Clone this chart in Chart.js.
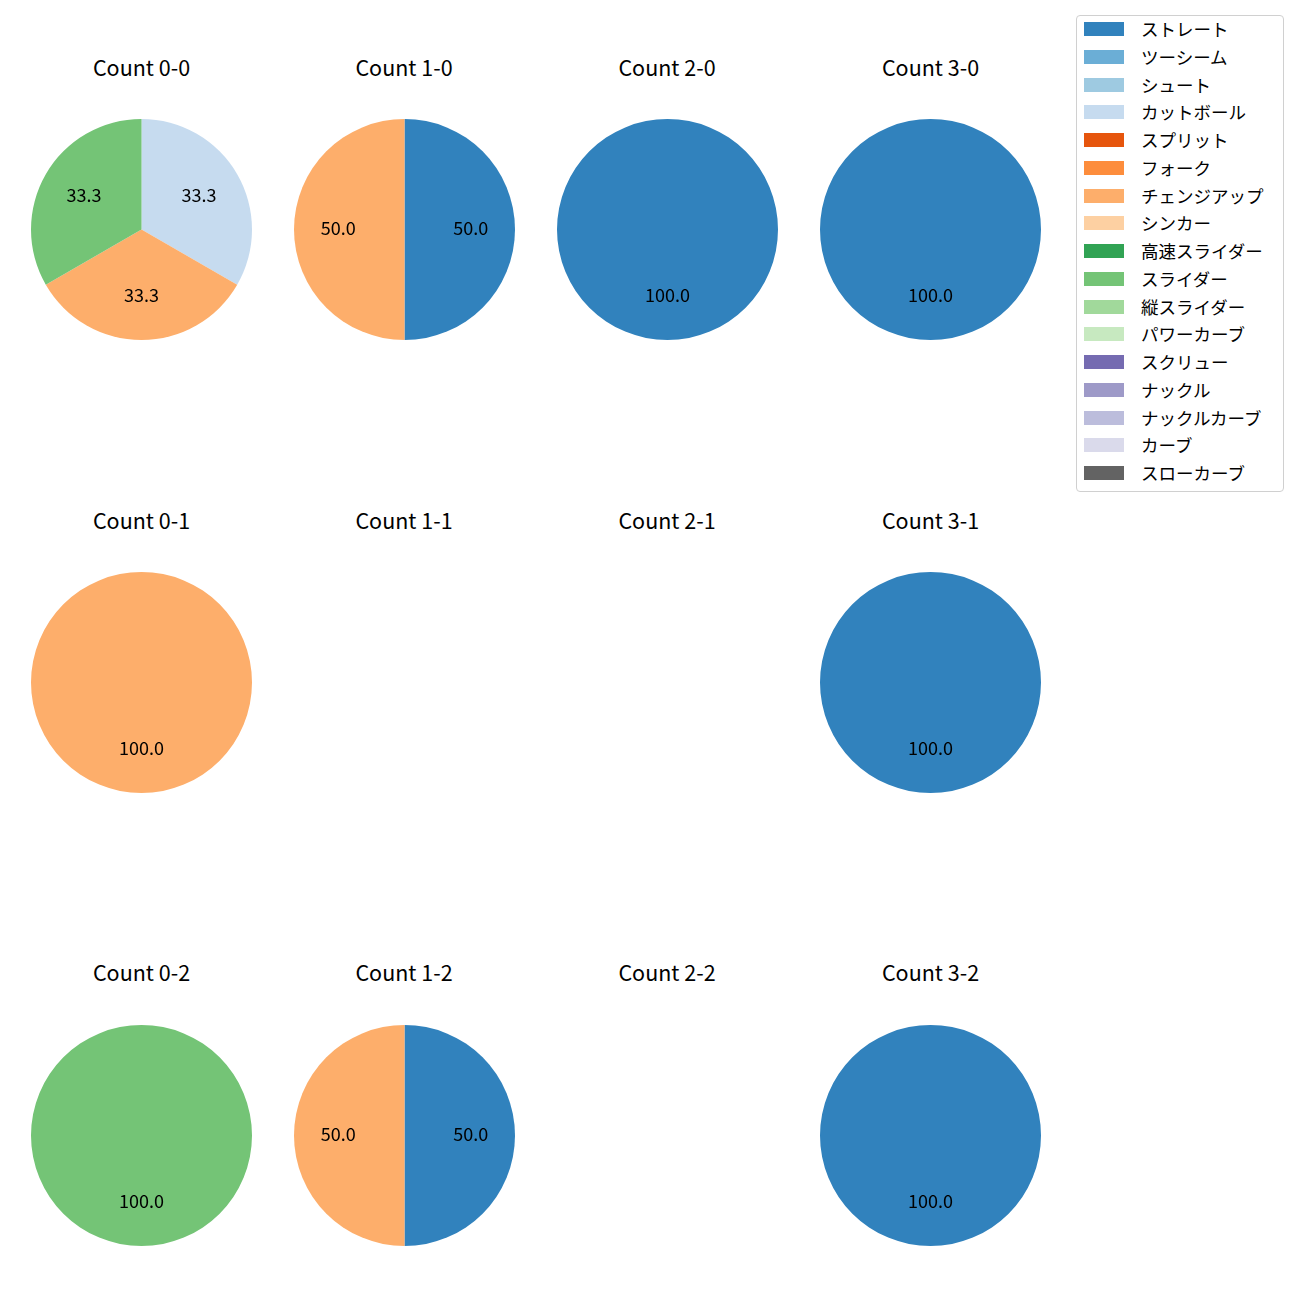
<!DOCTYPE html>
<html>
<head>
<meta charset="utf-8">
<script src="https://cdn.jsdelivr.net/npm/chart.js@4"></script>
<style>
  body { margin: 0; background: #fff; }
  #fig { position: relative; width: 1300px; height: 1300px; background: #fff;
         font-family: "Noto Sans CJK JP", "Noto Sans", sans-serif; color: #000; }
  .title { position: absolute; width: 260px; text-align: center; font-size: 21.5px; line-height: 24px; }
  .pie { position: absolute; width: 221px; height: 221px; }
  #legend { position: absolute; left: 1076px; top: 15px; width: 208px; height: 477px;
            border: 1px solid #d0d0d0; border-radius: 4px; box-sizing: border-box; }
  .item { position: absolute; left: 0; height: 24px; font-size: 17.5px; line-height: 24px; }
  .sw { position: absolute; left: 7px; top: 5px; width: 40px; height: 14px; }
  .lbl { position: absolute; left: 64px; top: 0; white-space: nowrap; }
</style>
</head>
<body>
<div id="fig"><div id="legend"></div></div>
<script>
// 球種と色 (tab20c)
const pitchTypes = ["ストレート", "ツーシーム", "シュート", "カットボール", "スプリット", "フォーク",
  "チェンジアップ", "シンカー", "高速スライダー", "スライダー", "縦スライダー", "パワーカーブ",
  "スクリュー", "ナックル", "ナックルカーブ", "カーブ", "スローカーブ"];
const pitchColors = ["#3182bd", "#6baed6", "#9ecae1", "#c6dbef", "#e6550d", "#fd8d3c",
  "#fdae6b", "#fdd0a2", "#31a354", "#74c476", "#a1d99b", "#c7e9c0",
  "#756bb1", "#9e9ac8", "#bcbddc", "#dadaeb", "#636363"];

// カウントごとの投球数 (pitchTypes の順)
const countLabels = ["Count 0-0", "Count 1-0", "Count 2-0", "Count 3-0",
                     "Count 0-1", "Count 1-1", "Count 2-1", "Count 3-1",
                     "Count 0-2", "Count 1-2", "Count 2-2", "Count 3-2"];
const count00 = [0, 0, 0, 1, 0, 0, 1, 0, 0, 1, 0, 0, 0, 0, 0, 0, 0];
const count10 = [1, 0, 0, 0, 0, 0, 1, 0, 0, 0, 0, 0, 0, 0, 0, 0, 0];
const count20 = [1, 0, 0, 0, 0, 0, 0, 0, 0, 0, 0, 0, 0, 0, 0, 0, 0];
const count30 = [1, 0, 0, 0, 0, 0, 0, 0, 0, 0, 0, 0, 0, 0, 0, 0, 0];
const count01 = [0, 0, 0, 0, 0, 0, 1, 0, 0, 0, 0, 0, 0, 0, 0, 0, 0];
const count11 = [0, 0, 0, 0, 0, 0, 0, 0, 0, 0, 0, 0, 0, 0, 0, 0, 0];
const count21 = [0, 0, 0, 0, 0, 0, 0, 0, 0, 0, 0, 0, 0, 0, 0, 0, 0];
const count31 = [1, 0, 0, 0, 0, 0, 0, 0, 0, 0, 0, 0, 0, 0, 0, 0, 0];
const count02 = [0, 0, 0, 0, 0, 0, 0, 0, 0, 1, 0, 0, 0, 0, 0, 0, 0];
const count12 = [1, 0, 0, 0, 0, 0, 1, 0, 0, 0, 0, 0, 0, 0, 0, 0, 0];
const count22 = [0, 0, 0, 0, 0, 0, 0, 0, 0, 0, 0, 0, 0, 0, 0, 0, 0];
const count32 = [1, 0, 0, 0, 0, 0, 0, 0, 0, 0, 0, 0, 0, 0, 0, 0, 0];
const countValues = [count00, count10, count20, count30, count01, count11,
                     count21, count31, count02, count12, count22, count32];

const colX = [141.5, 404, 667, 930.5];
const rowY = [229.5, 682.5, 1135];
const fig = document.getElementById("fig");

// パーセント表示 (半径の0.6の位置)
const pctLabels = {
  id: "pctLabels",
  afterDatasetsDraw(chart) {
    const ctx = chart.ctx;
    const vals = chart.data.datasets[0].data;
    const total = vals.reduce((a, b) => a + b, 0);
    if (!total) return;
    ctx.save();
    ctx.font = '18px "Noto Sans CJK JP", sans-serif';
    ctx.fillStyle = "#000";
    ctx.textAlign = "center";
    ctx.textBaseline = "middle";
    chart.getDatasetMeta(0).data.forEach((arc, i) => {
      if (!vals[i]) return;
      const p = arc.getProps(["x", "y", "startAngle", "endAngle", "outerRadius"], true);
      const mid = (p.startAngle + p.endAngle) / 2;
      const r = p.outerRadius * 0.6;
      ctx.fillText((vals[i] / total * 100).toFixed(1), p.x + Math.cos(mid) * r, p.y + Math.sin(mid) * r - 1);
    });
    ctx.restore();
  }
};

countValues.forEach((vals, k) => {
  const cx = colX[k % 4], cy = rowY[Math.floor(k / 4)];
  const t = document.createElement("div");
  t.className = "title";
  t.style.left = (cx - 130) + "px";
  t.style.top = (cy - 175) + "px";
  t.textContent = countLabels[k];
  fig.appendChild(t);

  const wrap = document.createElement("div");
  wrap.className = "pie";
  wrap.style.left = (cx - 110.5) + "px";
  wrap.style.top = (cy - 110.5) + "px";
  const cv = document.createElement("canvas");
  cv.width = 221; cv.height = 221;
  wrap.appendChild(cv);
  fig.appendChild(wrap);

  new Chart(cv, {
    type: "pie",
    data: {
      labels: pitchTypes,
      datasets: [{ data: vals, backgroundColor: pitchColors, borderWidth: 0 }]
    },
    options: {
      responsive: false,
      animation: false,
      layout: { padding: 0 },
      plugins: { legend: { display: false }, tooltip: { enabled: false } }
    },
    plugins: [pctLabels]
  });
});

// 凡例
const legend = document.getElementById("legend");
pitchTypes.forEach((name, i) => {
  const it = document.createElement("div");
  it.className = "item";
  it.style.top = (1 + i * 27.75) + "px";
  it.innerHTML = '<div class="sw" style="background:' + pitchColors[i] + '"></div><div class="lbl">' + name + '</div>';
  legend.appendChild(it);
});
</script>
</body>
</html>
